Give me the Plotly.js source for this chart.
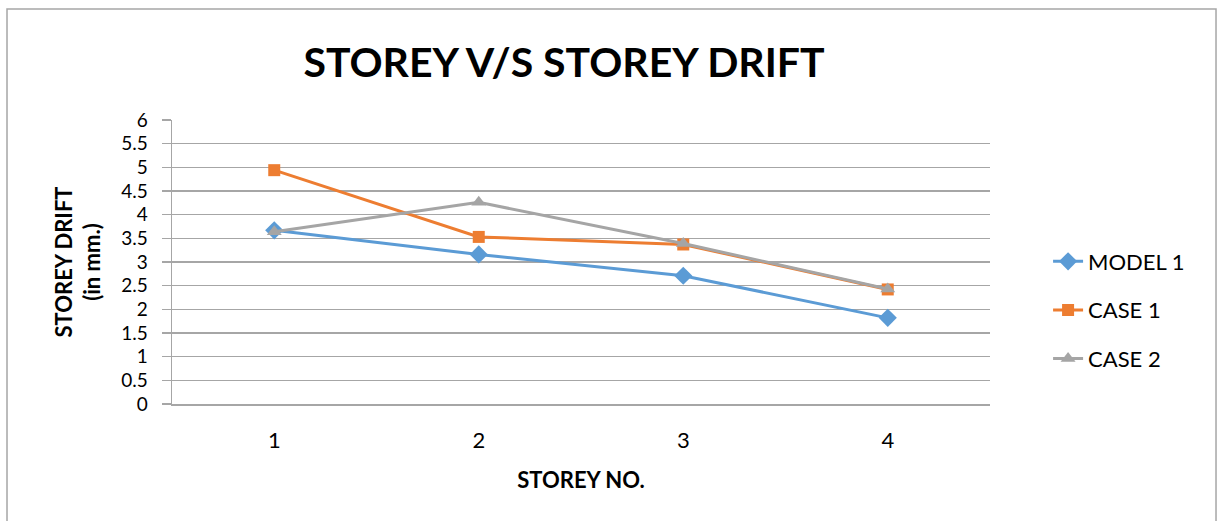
<!DOCTYPE html>
<html>
<head>
<meta charset="utf-8">
<script src="https://cdn.plot.ly/plotly-3.0.1.min.js"></script>
<style>
html,body{margin:0;padding:0;background:#fff;}
#chart{width:1219px;height:521px;}
</style>
</head>
<body>
<div id="chart"></div>
<script>
const storeys = ['1', '2', '3', '4'];
const model1 = [3.67, 3.16, 2.71, 1.82];
const case1 = [4.94, 3.53, 3.37, 2.42];
const case2 = [3.64, 4.26, 3.39, 2.43];
const seriesNames = ['MODEL 1', 'CASE 1', 'CASE 2'];
const yTicks = [0, 0.5, 1, 1.5, 2, 2.5, 3, 3.5, 4, 4.5, 5, 5.5, 6];

const FONT = 'Lato, "Open Sans", "Liberation Sans", sans-serif';

const traces = [
  {x: storeys, y: model1, name: seriesNames[0], legendgroup: 'a', type: 'scatter', mode: 'lines+markers',
   line: {color: '#5b9bd5', width: 3}, marker: {symbol: 'diamond', size: 14, color: '#5b9bd5'}},
  {x: storeys, y: case1, name: seriesNames[1], legendgroup: 'b', type: 'scatter', mode: 'lines+markers',
   line: {color: '#ed7d31', width: 3}, marker: {symbol: 'square', size: 12, color: '#ed7d31'}},
  {x: storeys, y: case2, name: seriesNames[2], legendgroup: 'c', type: 'scatter', mode: 'lines+markers',
   line: {color: '#a5a5a5', width: 3}, marker: {symbol: 'triangle-up', size: 13, color: '#a5a5a5'}}
];

const layout = {
  width: 1219, height: 521,
  margin: {l: 172, r: 229, t: 120, b: 117},
  paper_bgcolor: '#ffffff', plot_bgcolor: '#ffffff',
  font: {family: FONT, color: '#000000', size: 22},
  title: {text: '<b>STOREY V/S STOREY DRIFT</b>', font: {family: FONT, size: 41, color: '#000'},
          xref: 'container', x: 0.4627, xanchor: 'center', yref: 'container', y: 0.88, yanchor: 'middle'},
  showlegend: true,
  legend: {x: 1.071, xanchor: 'left', y: 0.331, yanchor: 'middle', font: {size: 22, family: FONT},
           traceorder: 'grouped', tracegroupgap: 17, bgcolor: 'rgba(0,0,0,0)'},
  xaxis: {type: 'category', range: [-0.5, 3.5], showgrid: false, showline: true, linecolor: '#a6a6a6', linewidth: 1.5,
          ticks: '', tickfont: {size: 22}, ticklabelstandoff: 16, zeroline: false,
          title: {text: '<b>STOREY NO.</b>', font: {size: 22}, standoff: 20}},
  yaxis: {range: [0, 6], tickvals: yTicks, ticktext: yTicks.map(String), showgrid: true, gridcolor: '#a6a6a6', gridwidth: 1.5,
          showline: true, linecolor: '#a6a6a6', linewidth: 1.5, ticks: 'outside', ticklen: 9, tickcolor: '#a6a6a6',
          tickwidth: 1.5, tickfont: {size: 19}, ticklabelstandoff: 10, zeroline: false,
          title: {text: '<b>STOREY DRIFT<br>(in mm.)</b>', font: {size: 22}, standoff: 14}},
  shapes: [
    {type: 'rect', xref: 'paper', yref: 'paper', x0: -0.2017, x1: 1.2763, y0: -0.6, y1: 1.3908,
     line: {color: '#a6a6a6', width: 1.5}, fillcolor: 'rgba(0,0,0,0)', layer: 'below'}
  ]
};

Plotly.newPlot('chart', traces, layout, {displayModeBar: false, staticPlot: true});
</script>
</body>
</html>
